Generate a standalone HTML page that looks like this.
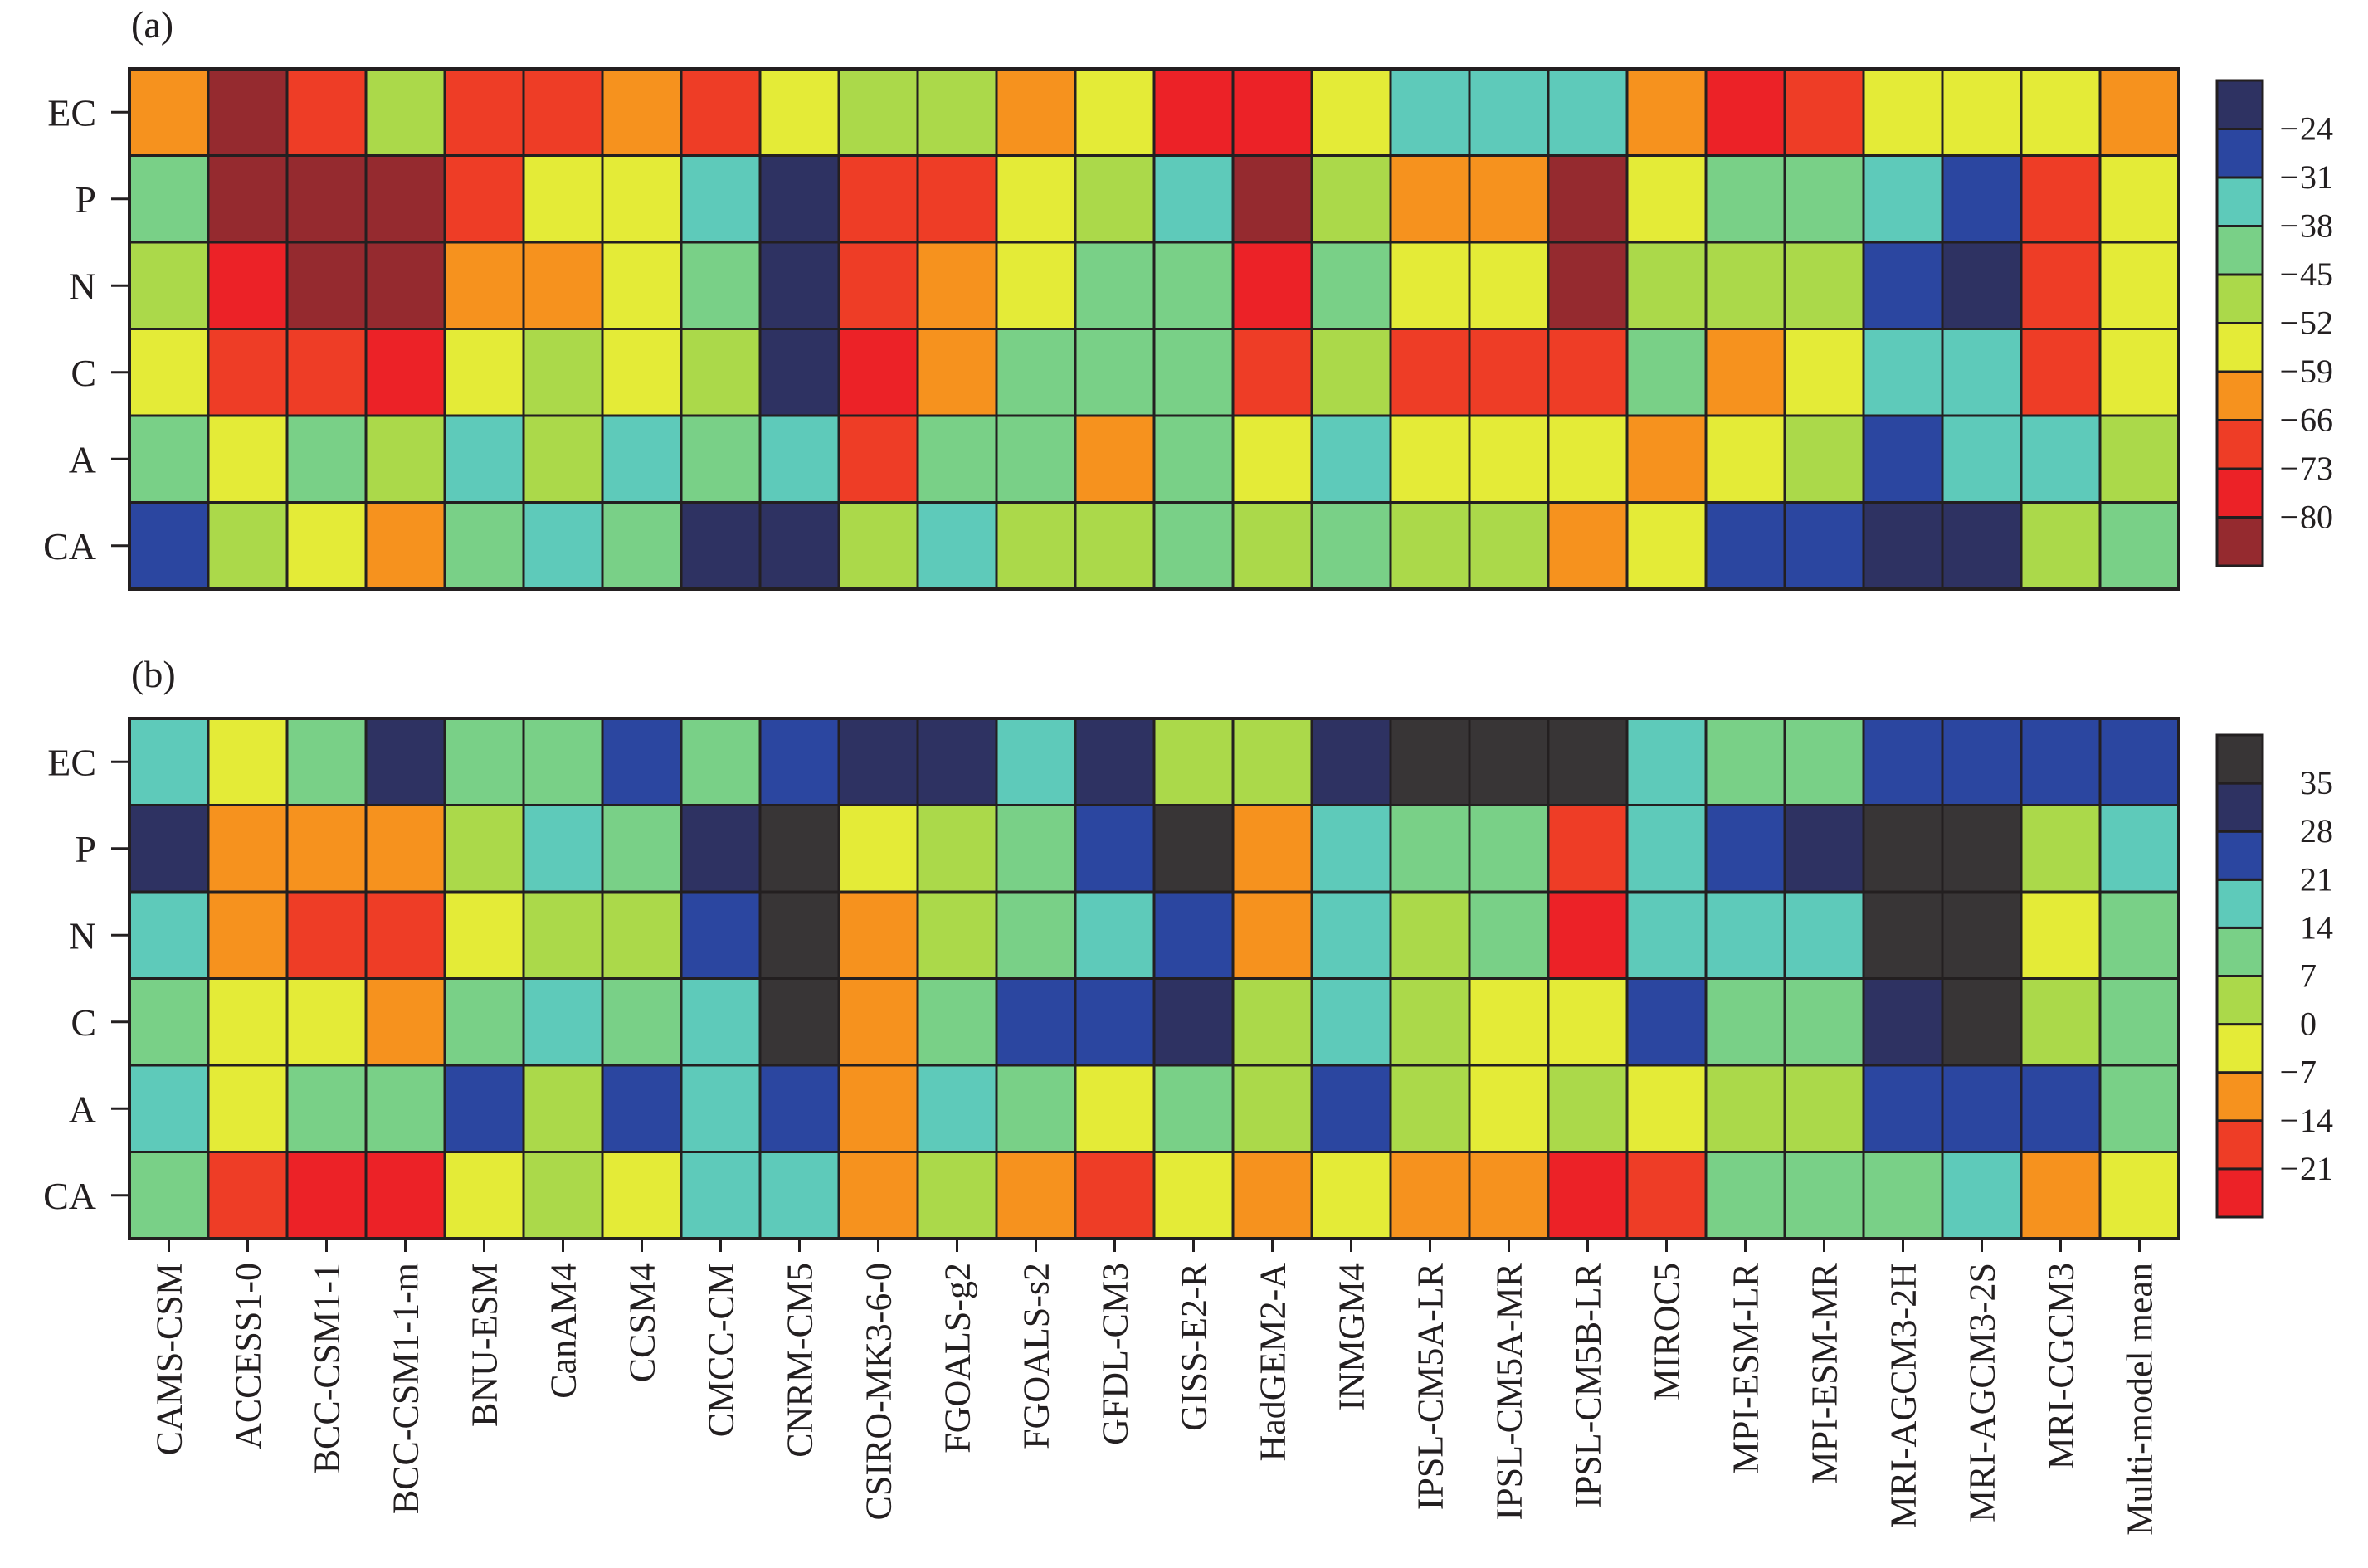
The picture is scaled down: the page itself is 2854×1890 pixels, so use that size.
<!DOCTYPE html>
<html><head><meta charset="utf-8"><style>
html,body{margin:0;padding:0;background:#fff;}
svg{display:block;font-family:"Liberation Serif",serif;}
</style></head><body>
<svg id="chart" width="2854" height="1890" viewBox="0 0 2854 1890"></svg>
<script>
const models = ["CAMS-CSM","ACCESS1-0","BCC-CSM1-1","BCC-CSM1-1-m","BNU-ESM","CanAM4","CCSM4","CMCC-CM","CNRM-CM5","CSIRO-MK3-6-0","FGOALS-g2","FGOALS-s2","GFDL-CM3","GISS-E2-R","HadGEM2-A","INMGM4","IPSL-CM5A-LR","IPSL-CM5A-MR","IPSL-CM5B-LR","MIROC5","MPI-ESM-LR","MPI-ESM-MR","MRI-AGCM3-2H","MRI-AGCM3-2S","MRI-CGCM3","Multi-model mean"];
const rowsLabels = ["EC","P","N","C","A","CA"];
const aEC = [-62,-84,-70,-48,-70,-70,-62,-70,-56,-48,-48,-62,-56,-76,-76,-56,-35,-35,-35,-62,-76,-70,-56,-56,-56,-62];
const aP  = [-42,-84,-84,-84,-70,-56,-56,-35,-20,-70,-70,-56,-48,-35,-84,-48,-62,-62,-84,-56,-42,-42,-35,-28,-70,-56];
const aN  = [-48,-76,-84,-84,-62,-62,-56,-42,-20,-70,-62,-56,-42,-42,-76,-42,-56,-56,-84,-48,-48,-48,-28,-20,-70,-56];
const aC  = [-56,-70,-70,-76,-56,-48,-56,-48,-20,-76,-62,-42,-42,-42,-70,-48,-70,-70,-70,-42,-62,-56,-35,-35,-70,-56];
const aA  = [-42,-56,-42,-48,-35,-48,-35,-42,-35,-70,-42,-42,-62,-42,-56,-35,-56,-56,-56,-62,-56,-48,-28,-35,-35,-48];
const aCA = [-28,-48,-56,-62,-42,-35,-42,-20,-20,-48,-35,-48,-48,-42,-48,-42,-48,-48,-62,-56,-28,-28,-20,-20,-48,-42];
const bEC = [17,-3,10,31,10,10,24,10,24,31,31,17,31,3,3,31,38,38,38,17,10,10,24,24,24,24];
const bP  = [31,-10,-10,-10,3,17,10,31,38,-3,3,10,24,38,-10,17,10,10,-17,17,24,31,38,38,3,17];
const bN  = [17,-10,-17,-17,-3,3,3,24,38,-10,3,10,17,24,-10,17,3,10,-24,17,17,17,38,38,-3,10];
const bC  = [10,-3,-3,-10,10,17,10,17,38,-10,10,24,24,31,3,17,3,-3,-3,24,10,10,31,38,3,10];
const bA  = [17,-3,10,10,24,3,24,17,24,-10,17,10,-3,10,3,24,3,-3,3,-3,3,3,24,24,24,10];
const bCA = [10,-17,-24,-24,-3,3,-3,17,17,-10,3,-10,-17,-3,-10,-3,-10,-10,-24,-17,10,10,10,17,-10,-3];
const aTicks = [-80,-73,-66,-59,-52,-45,-38,-31,-24];
const bTicks = [-21,-14,-7,0,7,14,21,28,35];
const aColors = ["#952a2f","#ec2227","#ee3d26","#f6921e","#e4eb37","#abd94a","#79d087","#5ecaba","#2b46a0","#2e3262"];
const bColors = ["#ec2227","#ee3d26","#f6921e","#e4eb37","#abd94a","#79d087","#5ecaba","#2b46a0","#2e3262","#383536"];

const NS="http://www.w3.org/2000/svg";
const svg=document.getElementById('chart');
function mk(tag,attrs,parent){const e=document.createElementNS(NS,tag);for(const k in attrs)e.setAttribute(k,attrs[k]);(parent||svg).appendChild(e);return e;}
const X0=156, CW=95, RH=104.5, STROKE="#231f20";
function xs(i){return X0+i*CW;}
function colorFor(v,ticks,cols){let k=0;while(k<ticks.length&&v>=ticks[k])k++;return cols[k];}

function panel(y0,data,ticks,cols,letter,cbTop,cbBot){
  const g=mk('g',{});
  
  
  const t=mk('text',{x:158,y:y0-38,'font-size':46,fill:'#231f20'},g);t.textContent='('+letter+')';
  
  
  data.forEach((row,r)=>{
    row.forEach((v,c)=>{
      const rc=mk('rect',{x:xs(c),y:y0+r*RH,width:CW,height:RH,fill:colorFor(v,ticks,cols),stroke:STROKE,'stroke-width':3},g);
      
      
    });
    const cy=y0+(r+0.5)*RH;
    mk('line',{x1:134,x2:156,y1:cy,y2:cy,stroke:STROKE,'stroke-width':3},g);
    const lt=mk('text',{x:116,y:cy+16,'font-size':46,'text-anchor':'end',fill:'#231f20'},g);
    lt.textContent=rowsLabels[r];
    
    
  });
  mk('rect',{x:X0,y:y0,width:CW*26,height:RH*6,fill:'none',stroke:STROKE,'stroke-width':4},g);
  const cb=mk('g',{},g);
  
  
  const seg=(cbBot-cbTop)/cols.length;
  cols.forEach((c,i)=>{
    const yy=cbBot-(i+1)*seg;
    mk('rect',{x:2672,y:yy,width:55,height:seg,fill:c,stroke:STROKE,'stroke-width':3},cb);
  });
  ticks.forEach((tv,i)=>{
    const yy=cbBot-(i+1)*seg;
    if(tv<0){
      const mn=mk('text',{x:2770,y:yy+13,'font-size':40,'text-anchor':'end',fill:'#231f20'},cb);
      mn.textContent='\u2212';
    }
    const tt=mk('text',{x:2772,y:yy+13,'font-size':40,fill:'#231f20'},cb);
    tt.textContent=String(Math.abs(tv));
    
    
  });
}
panel(83,[aEC,aP,aN,aC,aA,aCA],aTicks,aColors,'a',97,682);
panel(866,[bEC,bP,bN,bC,bA,bCA],bTicks,bColors,'b',886,1467);

models.forEach((m,i)=>{
  const cx=xs(i)+CW/2;
  mk('line',{x1:cx,x2:cx,y1:1493,y2:1509,stroke:STROKE,'stroke-width':3});
  const t=mk('text',{x:0,y:0,'font-size':44,'text-anchor':'end',fill:'#231f20',transform:`translate(${cx+15},1522) rotate(-90)`});
  t.textContent=m;
  
  
});
</script>
</body></html>
